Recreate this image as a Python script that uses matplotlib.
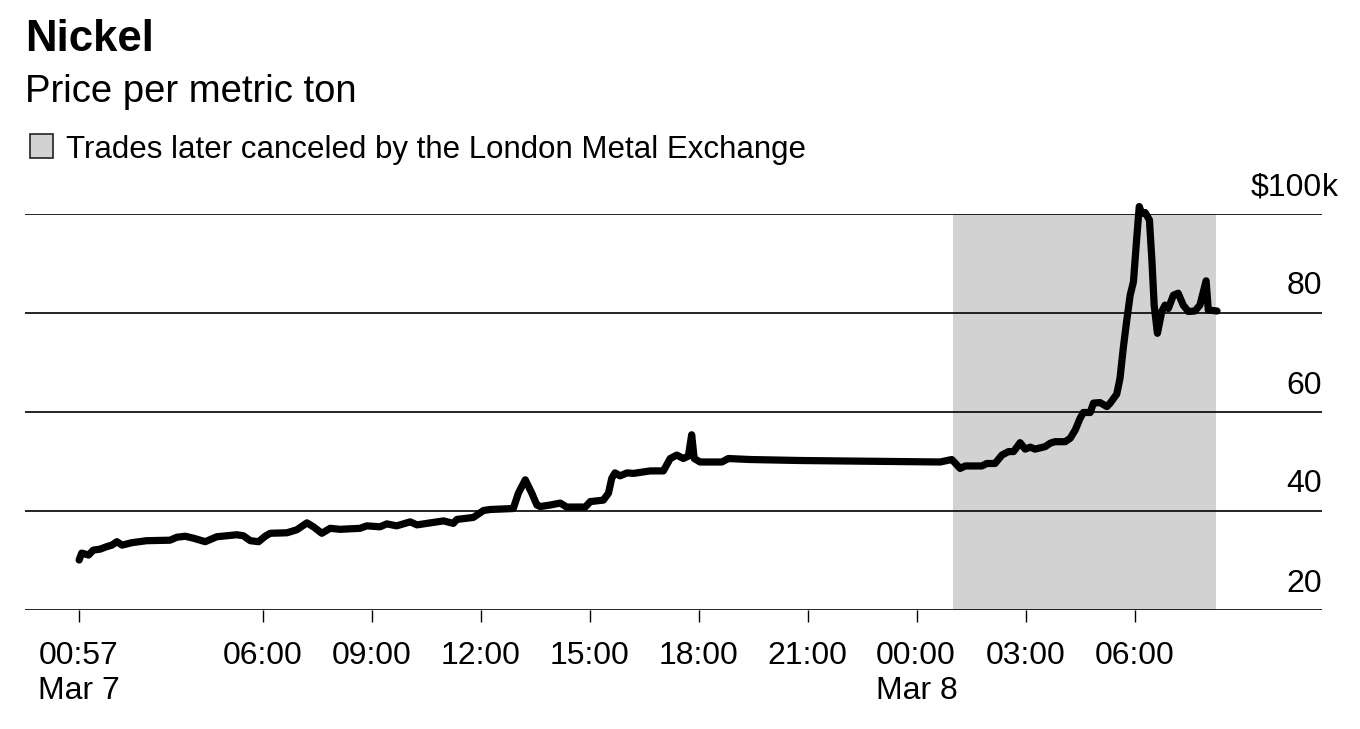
import matplotlib
matplotlib.use('Agg')
import matplotlib.pyplot as plt
from matplotlib.patches import Rectangle
from matplotlib.transforms import offset_copy

plt.rcParams['font.family'] = ['Liberation Sans', 'DejaVu Sans']

# Hours since Mar 7 00:00 (London time) and nickel price in $ thousands per metric ton
hours = [0.95, 1.02, 1.21, 1.34, 1.53, 1.71, 1.85, 1.99, 2.13, 2.40, 2.81, 3.45, 3.64, 3.87,
         4.10, 4.42, 4.74, 5.29, 5.47, 5.66, 5.89, 6.07, 6.21, 6.67, 6.94, 7.22, 7.40, 7.63,
         7.86, 8.13, 8.68, 8.87, 9.23, 9.42, 9.69, 10.06, 10.25, 10.52, 10.98, 11.25, 11.35,
         11.80, 12.08, 12.26, 12.90, 13.04, 13.23, 13.41, 13.55, 13.64, 13.91, 14.19, 14.37,
         14.88, 15.02, 15.38, 15.52, 15.61, 15.70, 15.84, 16.03, 16.21, 16.67, 17.03, 17.22,
         17.40, 17.58, 17.72, 17.81, 17.88, 18.04, 18.64, 18.82, 19.42, 20.80, 24.65, 24.97,
         25.20, 25.34, 25.80, 25.93, 26.16, 26.35, 26.53, 26.67, 26.85, 26.99, 27.13, 27.26,
         27.54, 27.68, 27.81, 28.09, 28.23, 28.37, 28.50, 28.59, 28.78, 28.87, 29.05, 29.24,
         29.33, 29.51, 29.60, 29.69, 29.78, 29.88, 29.97, 30.06, 30.13, 30.20, 30.29, 30.41,
         30.48, 30.54, 30.63, 30.75, 30.84, 30.93, 31.07, 31.20, 31.34, 31.48, 31.66, 31.80,
         31.97, 32.03, 32.27]
price_k = [30.1, 31.5, 31.1, 32.1, 32.3, 32.8, 33.1, 33.8, 33.1, 33.6, 34.0, 34.1, 34.7, 34.9,
           34.5, 33.8, 34.8, 35.2, 35.0, 34.0, 33.8, 34.9, 35.5, 35.6, 36.2, 37.6, 36.8, 35.5,
           36.5, 36.3, 36.5, 37.0, 36.8, 37.4, 37.0, 37.8, 37.2, 37.5, 38.0, 37.5, 38.3,
           38.7, 40.1, 40.3, 40.5, 43.6, 46.3, 43.6, 41.2, 40.9, 41.2, 41.6, 40.8,
           40.8, 41.9, 42.2, 43.6, 46.6, 47.7, 47.1, 47.7, 47.6, 48.1, 48.1, 50.6,
           51.3, 50.6, 51.1, 55.4, 50.6, 49.9, 49.9, 50.6, 50.4, 50.2, 49.9, 50.4,
           48.6, 49.1, 49.1, 49.6, 49.6, 51.3, 52.0, 52.0, 53.8, 52.5, 52.9, 52.5,
           53.0, 53.7, 54.0, 54.0, 54.7, 56.4, 58.7, 59.9, 59.9, 61.8, 61.9, 61.1,
           61.8, 63.6, 66.8, 72.9, 78.2, 83.6, 86.3, 95.1, 101.5, 100.1, 100.3, 98.8,
           90.4, 81.6, 75.9, 80.3, 81.6, 80.9, 83.6, 84.0, 81.6, 80.3, 80.4, 81.6,
           86.5, 80.6, 80.4]

tick_hours = [0.95, 6, 9, 12, 15, 18, 21, 24, 27, 30]
tick_labels = ['00:57\nMar 7', '06:00', '09:00', '12:00', '15:00', '18:00', '21:00',
               '00:00\nMar 8', '03:00', '06:00']
y_ticks = [20, 40, 60, 80, 100]
y_labels = ['20', '40', '60', '80', '$100']
canceled_start, canceled_end = 25.0, 32.25

W, H = 1360, 729
fig = plt.figure(figsize=(W / 100, H / 100), dpi=100)
ax = fig.add_axes([25 / W, 1 - 610 / H, (1322 - 25) / W, (610 - 214) / H])
ax.set_xlim(-0.54, 35.16)
ax.set_ylim(20, 100)

ax.axvspan(canceled_start, canceled_end, color='#d2d2d2', lw=0, zorder=1)
for y in y_ticks:
    ax.axhline(y, color='black', lw=1.2, zorder=2)
ax.plot(hours, price_k, color='black', lw=5.2, solid_joinstyle='round',
        solid_capstyle='round', clip_on=False, zorder=3)

for s in ax.spines.values():
    s.set_visible(False)
ax.set_yticks([])
ax.set_xticks(tick_hours)
ax.set_xticklabels(tick_labels)
ax.tick_params(axis='x', direction='out', length=8.6, width=1.0, pad=14,
               labelsize=23, colors='black')
for lab in ax.get_xticklabels():
    lab.set_multialignment('left')
    lab.set_linespacing(1.2)

lab_tr = offset_copy(ax.get_yaxis_transform(), fig=fig, x=0, y=18.5, units='dots')
for v, t in zip(y_ticks, y_labels):
    ax.text(1.0, v, t, transform=lab_tr, ha='right', va='baseline', fontsize=23,
            clip_on=False)
ax.text(1.0, 100, 'k', transform=lab_tr, ha='left', va='baseline', fontsize=23,
        clip_on=False)

fig.text(25 / W, 1 - 51 / H, 'Nickel', fontsize=31.5, fontweight='bold', va='baseline', ha='left')
fig.text(25 / W, 1 - 102 / H, 'Price per metric ton', fontsize=27.5, va='baseline', ha='left')
fig.patches.append(Rectangle((30 / W, 1 - 158 / H), 23 / W, 24 / H, transform=fig.transFigure,
                             facecolor='#d2d2d2', edgecolor='#222222', lw=1.2))
fig.text(66 / W, 1 - 158 / H, 'Trades later canceled by the London Metal Exchange',
         fontsize=22.5, va='baseline', ha='left')

fig.savefig('out.png', dpi=100)
